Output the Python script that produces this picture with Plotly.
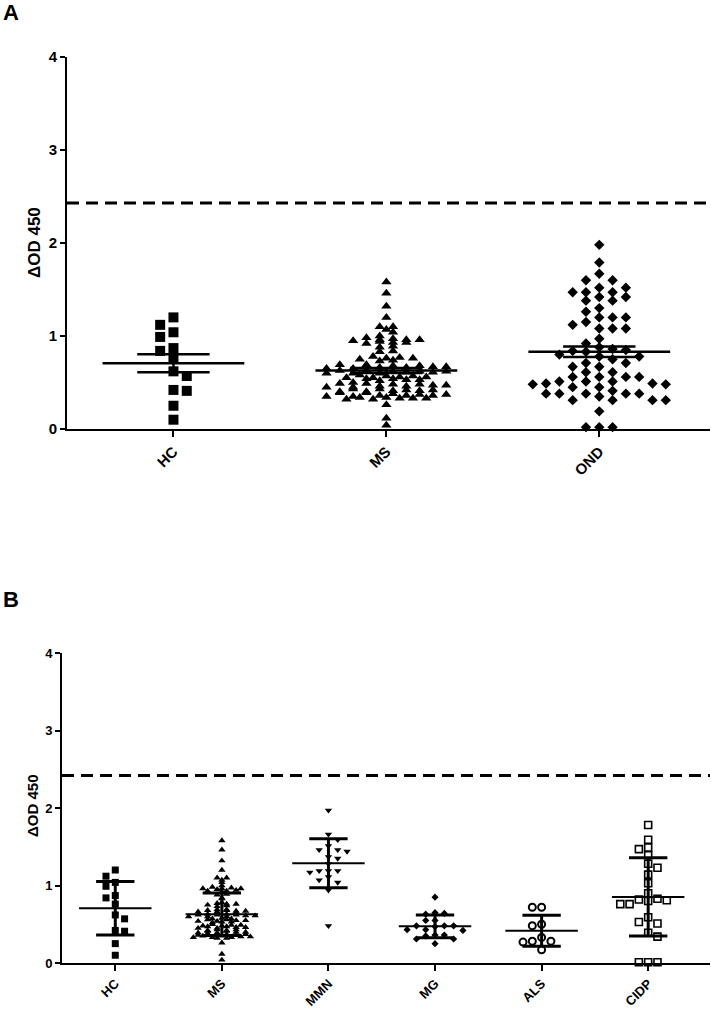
import plotly.graph_objects as go
import numpy as np

# ---------------- data ----------------
CATS_A = ["HC", "MS", "OND"]
CATS_B = ["HC", "MS", "MMN", "MG", "ALS", "CIDP"]

HC = [1.20, 1.12, 1.04, 0.99, 0.87, 0.84, 0.76, 0.62, 0.57, 0.42, 0.41, 0.25, 0.10]

MS = [1.58, 1.46, 1.32, 1.20, 1.10, 1.10, 1.07, 1.04,
      1.00, 0.98, 0.97, 0.96, 0.96, 0.96, 0.95,
      0.94, 0.93, 0.93, 0.92,
      0.89, 0.88, 0.84, 0.83,
      0.78, 0.77, 0.76, 0.76, 0.75, 0.74, 0.73,
      0.69, 0.69, 0.68, 0.68, 0.67, 0.67, 0.66, 0.66, 0.65, 0.65,
      0.63, 0.63, 0.62, 0.62, 0.62, 0.61, 0.61, 0.60, 0.60, 0.60,
      0.58, 0.57, 0.57, 0.56, 0.56, 0.55, 0.55, 0.54, 0.54, 0.53, 0.53, 0.52,
      0.50, 0.49, 0.49, 0.48, 0.48, 0.47, 0.47, 0.46, 0.46, 0.45, 0.45,
      0.43, 0.43, 0.42, 0.42, 0.41, 0.41, 0.40, 0.40, 0.39, 0.39,
      0.38, 0.37, 0.37, 0.36, 0.36, 0.36,
      0.35, 0.35, 0.34, 0.34, 0.33, 0.33, 0.33, 0.32, 0.32,
      0.26, 0.115, 0.04]

OND = [1.98, 1.79, 1.67, 1.60, 1.60, 1.52, 1.52, 1.47, 1.47, 1.47, 1.42, 1.42,
       1.38, 1.38, 1.30, 1.26, 1.20, 1.20, 1.20, 1.15, 1.12, 1.08, 1.08, 1.08,
       0.97, 0.92, 0.88, 0.86, 0.85, 0.84, 0.83, 0.80, 0.78, 0.78, 0.75,
       0.71, 0.71, 0.67, 0.67, 0.61, 0.61, 0.56, 0.56, 0.56, 0.56,
       0.51, 0.51, 0.51, 0.49, 0.49, 0.48, 0.48, 0.45, 0.45, 0.41,
       0.38, 0.38, 0.38, 0.38, 0.38, 0.35, 0.31, 0.31, 0.31, 0.31,
       0.19, 0.02, 0.02, 0.02]

MMN = [1.97, 1.66, 1.59, 1.51, 1.46, 1.46, 1.44, 1.37, 1.35, 1.28, 1.19, 1.19,
       1.19, 1.17, 1.11, 1.07, 1.04, 0.94, 0.48]

MG = [0.85, 0.65, 0.64, 0.63, 0.55, 0.55, 0.48, 0.48, 0.48, 0.47, 0.43, 0.43,
      0.42, 0.36, 0.36, 0.35, 0.31, 0.31, 0.25]

ALS = [0.72, 0.72, 0.50, 0.48, 0.33, 0.28, 0.28, 0.27, 0.17]

CIDP = [1.78, 1.59, 1.49, 1.47, 1.39, 1.28, 1.23, 1.14, 1.03, 0.90, 0.83, 0.82,
        0.81, 0.80, 0.76, 0.76, 0.59, 0.53, 0.51, 0.39, 0.34, 0.01, 0.01, 0.01]

CUTOFF_A = 2.43
CUTOFF_B = 2.42
Y_TICKS = [0, 1, 2, 3, 4]

# ---------------- geometry ----------------
W, H = 711, 1013
A_X0, A_X1, A_YT, A_YB = 67, 710, 57, 429
B_X0, B_X1, B_YT, B_YB = 62, 710, 653, 963
A_RANGE = [-0.5, 2.52]
B_RANGE = [-0.5, 5.58]

A_PXU = (A_YB - A_YT) / 4.0
B_PXU = (B_YB - B_YT) / 4.0
A_PXC = (A_X1 - A_X0) / (A_RANGE[1] - A_RANGE[0])
B_PXC = (B_X1 - B_X0) / (B_RANGE[1] - B_RANGE[0])

FONT = "Liberation Sans, Arial, sans-serif"


def swarm(vals, px_unit, px_cat, step_px, coll_h_px):
    """greedy beeswarm: offsets in half steps, box collision"""
    n = len(vals)
    order = sorted(range(n), key=lambda i: -vals[i])
    placed = []
    off = [0.0] * n
    flip = 1
    for i in order:
        y = vals[i] * px_unit
        cands = [0]
        for j in range(1, 60):
            cands += [flip * j, -flip * j]
        dx = 0.0
        for c in cands:
            dx = c * step_px / 2.0
            ok = True
            for pdx, py in placed:
                if abs(dx - pdx) < step_px - 0.01 and abs(y - py) < coll_h_px:
                    ok = False
                    break
            if ok:
                break
        placed.append((dx, y))
        off[i] = dx / px_cat
        flip = -flip
    return off


def binned(vals, px_cat, step_px, bin_val):
    """row-binned scatter: each bin's points spread symmetrically"""
    n = len(vals)
    bins = {}
    for i in range(n):
        b = int(np.floor(round(vals[i] * 1000) / round(bin_val * 1000)))
        bins.setdefault(b, []).append(i)
    off = [0.0] * n
    for b, idxs in bins.items():
        idxs = sorted(idxs, key=lambda i: vals[i])
        m = len(idxs)
        slots = [(j - (m - 1) / 2.0) * step_px / px_cat for j in range(m)]
        # alternate: low values to outer/inner mixed
        perm = list(range(0, m, 2)) + list(range(1, m, 2))[::-1]
        for k, i in enumerate(idxs):
            off[i] = slots[perm[k]]
    return off


fig = go.Figure()


def add_points(vals, offs, idx, xa, ya, symbol, size, lw=0):
    xs = [idx + o for o in offs]
    marker = dict(symbol=symbol, size=size, color="black",
                  line=dict(width=lw, color="black"))
    fig.add_trace(go.Scatter(x=xs, y=vals, mode="markers", marker=marker,
                             xaxis=xa, yaxis=ya, cliponaxis=False,
                             showlegend=False, hoverinfo="y"))


def add_bars(vals, idx, xa, ya, use_sd, mean_hw, cap_hw, mean_w, cap_w):
    arr = np.array(vals, dtype=float)
    m = float(arr.mean())
    sd = float(arr.std(ddof=1))
    e = sd if use_sd else sd / np.sqrt(len(arr))
    fig.add_trace(go.Scatter(x=[idx - mean_hw, idx + mean_hw], y=[m, m],
                             mode="lines", line=dict(color="black", width=mean_w),
                             xaxis=xa, yaxis=ya, showlegend=False, hoverinfo="skip"))
    fig.add_trace(go.Scatter(
        x=[idx - cap_hw, idx + cap_hw, None, idx - cap_hw, idx + cap_hw, None, idx, idx],
        y=[m + e, m + e, None, m - e, m - e, None, m - e, m + e],
        mode="lines", line=dict(color="black", width=cap_w),
        xaxis=xa, yaxis=ya, showlegend=False, hoverinfo="skip"))


# Panel A
add_points(HC, swarm(HC, A_PXU, A_PXC, 13.3, 10), 0, "x", "y", "square", 10)
add_points(MS, binned(MS, A_PXC, 13.3, 0.05), 1, "x", "y", "triangle-up", 9)
add_points(OND, swarm(OND, A_PXU, A_PXC, 13.3, 8), 2, "x", "y", "diamond", 8)
for v, i in [(HC, 0), (MS, 1), (OND, 2)]:
    add_bars(v, i, "x", "y", False, 0.333, 0.17, 2.5, 2.5)

# Panel B
add_points(HC, swarm(HC, B_PXU, B_PXC, 9.3, 7), 0, "x2", "y2", "square", 7)
add_points(MS, binned(MS, B_PXC, 9.5, 0.03), 1, "x2", "y2", "triangle-up", 6.5)
add_points(MMN, swarm(MMN, B_PXU, B_PXC, 9.3, 6), 2, "x2", "y2", "triangle-down", 6.5)
add_points(MG, swarm(MG, B_PXU, B_PXC, 9.3, 6), 3, "x2", "y2", "diamond", 5.5)
add_points(ALS, swarm(ALS, B_PXU, B_PXC, 9.3, 7), 4, "x2", "y2", "circle-open", 7, lw=2)
add_points(CIDP, swarm(CIDP, B_PXU, B_PXC, 9.3, 7), 5, "x2", "y2", "square-open", 7, lw=1.6)
for v, i in [(HC, 0), (MS, 1), (MMN, 2), (MG, 3), (ALS, 4), (CIDP, 5)]:
    add_bars(v, i, "x2", "y2", True, 0.34, 0.18, 2, 3)

# cutoff lines
fig.add_shape(type="line", xref="x domain", yref="y", x0=0, x1=1,
              y0=CUTOFF_A, y1=CUTOFF_A, line=dict(color="black", width=3, dash="12px,7px"))
fig.add_shape(type="line", xref="x2 domain", yref="y2", x0=0, x1=1,
              y0=CUTOFF_B, y1=CUTOFF_B, line=dict(color="black", width=3, dash="12px,7px"))

tickfont_a = dict(family=FONT, size=15, color="black", weight="bold")
tickfont_b = dict(family=FONT, size=13, color="black", weight="bold")

common_x = dict(showline=True, linecolor="black", linewidth=2, ticks="outside",
                ticklen=6, tickwidth=2, tickcolor="black", showgrid=False,
                zeroline=False, tickangle=-45, automargin=False)
common_y = dict(showline=True, linecolor="black", linewidth=2, ticks="outside",
                ticklen=5, tickwidth=2, tickcolor="black", showgrid=False,
                zeroline=False, range=[0, 4], tickvals=Y_TICKS,
                ticktext=[str(t) for t in Y_TICKS], automargin=False)

fig.update_layout(
    width=W, height=H, margin=dict(l=0, r=0, t=0, b=0, pad=0, autoexpand=False),
    paper_bgcolor="white", plot_bgcolor="white", showlegend=False,
    xaxis=dict(common_x, domain=[A_X0 / W, A_X1 / W], range=A_RANGE,
               tickvals=list(range(len(CATS_A))), ticktext=CATS_A,
               tickfont=tickfont_a, anchor="y"),
    yaxis=dict(common_y, domain=[1 - A_YB / H, 1 - A_YT / H], tickfont=tickfont_a,
               anchor="x"),
    xaxis2=dict(common_x, domain=[B_X0 / W, B_X1 / W], range=B_RANGE,
                tickvals=list(range(len(CATS_B))), ticktext=CATS_B,
                tickfont=tickfont_b, anchor="y2"),
    yaxis2=dict(common_y, domain=[1 - B_YB / H, 1 - B_YT / H], tickfont=tickfont_b,
                anchor="x2"),
)

ann_font = dict(family=FONT, color="black", weight="bold")
fig.add_annotation(x=35 / W, y=1 - 243 / H, xref="paper", yref="paper",
                   text="ΔOD 450", textangle=-90, showarrow=False,
                   font=dict(ann_font, size=17), xanchor="center", yanchor="middle")
fig.add_annotation(x=32 / W, y=1 - 806 / H, xref="paper", yref="paper",
                   text="ΔOD 450", textangle=-90, showarrow=False,
                   font=dict(ann_font, size=15), xanchor="center", yanchor="middle")
fig.add_annotation(x=11 / W, y=1 - 13 / H, xref="paper", yref="paper",
                   text="A", showarrow=False, font=dict(ann_font, size=22),
                   xanchor="center", yanchor="middle")
fig.add_annotation(x=11 / W, y=1 - 599 / H, xref="paper", yref="paper",
                   text="B", showarrow=False, font=dict(ann_font, size=22),
                   xanchor="center", yanchor="middle")

fig.write_html("out.html", config={"displayModeBar": False},
               post_script="document.body.style.margin='0';"
                           "document.body.style.overflow='hidden';")
